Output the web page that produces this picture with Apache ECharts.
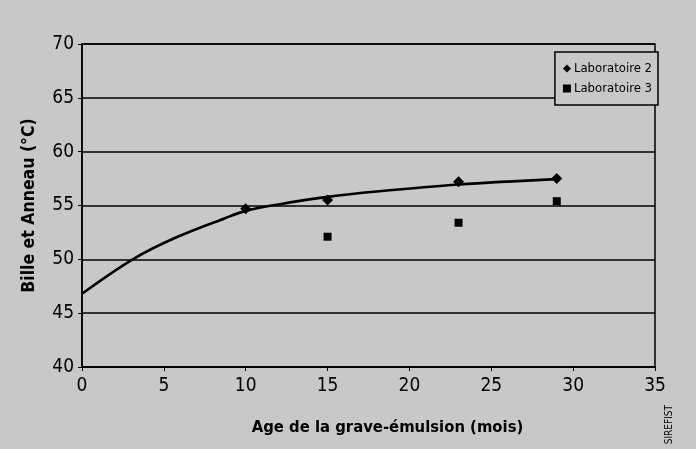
<!DOCTYPE html>
<html>
<head>
<meta charset="utf-8">
<script src="https://cdn.jsdelivr.net/npm/echarts@6/dist/echarts.min.js"></script>
<style>html,body{margin:0;padding:0;background:#c8c8c8;}#c{width:696px;height:449px;}</style>
</head>
<body>
<div id="c"></div>
<script>
// Data
var lab2X = [10, 15, 23, 29];
var lab2Y = [54.7, 55.5, 57.2, 57.5];
var lab3X = [15, 23, 29];
var lab3Y = [52.1, 53.4, 55.4];
var trendX = [0, 3.1, 5.7, 8.7, 10, 12, 15, 18, 23, 29];
var trendY = [46.8, 50.0, 52.0, 53.8, 54.5, 55.1, 55.8, 56.3, 56.95, 57.45];
var xTicks = [0, 5, 10, 15, 20, 25, 30, 35];
var yTicks = [40, 45, 50, 55, 60, 65, 70];

function pairs(xs, ys) { return xs.map(function (x, i) { return [x, ys[i]]; }); }

var FONT = "'Liberation Sans Narrow', 'DejaVu Sans Condensed', 'Roboto Condensed', 'Liberation Sans', sans-serif";
var chart = echarts.init(document.getElementById('c'));
chart.setOption({
  backgroundColor: '#c8c8c8',
  animation: false,
  textStyle: { fontFamily: FONT },
  grid: { left: 82, right: 41, top: 44, bottom: 82, show: true, borderColor: '#000', borderWidth: 1.5, backgroundColor: 'transparent' },
  legend: {
    right: 38, top: 52, orient: 'vertical', itemGap: 7,
    backgroundColor: '#c8c8c8', borderColor: '#000', borderWidth: 1.5, borderRadius: 0,
    padding: [10, 6, 10, 8], itemWidth: 8, itemHeight: 8,
    textStyle: { fontFamily: FONT, fontSize: 13, color: '#000', padding: [0, 0, 0, -2] },
    data: [{ name: 'Laboratoire 2', icon: 'diamond' }, { name: 'Laboratoire 3', icon: 'rect' }]
  },
  xAxis: {
    type: 'value', min: xTicks[0], max: xTicks[xTicks.length - 1], interval: 5,
    name: 'Age de la grave-émulsion (mois)', nameLocation: 'middle', nameGap: 52,
    nameTextStyle: { fontFamily: FONT, fontSize: 16.5, fontWeight: 'bold', color: '#000', padding: [0, 0, 0, 38] },
    axisLine: { lineStyle: { color: '#000', width: 1.5 } },
    axisTick: { show: true, length: 4, lineStyle: { color: '#000' } },
    axisLabel: { fontFamily: FONT, fontSize: 19, color: '#000', margin: 10 },
    splitLine: { show: false }
  },
  yAxis: {
    type: 'value', min: yTicks[0], max: yTicks[yTicks.length - 1], interval: 5,
    name: 'Bille et Anneau (°C)', nameLocation: 'middle', nameGap: 44,
    nameTextStyle: { fontFamily: FONT, fontSize: 17.5, fontWeight: 'bold', color: '#000' },
    axisLine: { show: true, lineStyle: { color: '#000', width: 1.5 } },
    axisTick: { show: true, length: 4, lineStyle: { color: '#000' } },
    axisLabel: { fontFamily: FONT, fontSize: 19, color: '#000', margin: 8 },
    splitLine: { show: true, lineStyle: { color: '#000', width: 1.5 } }
  },
  series: [
    {
      name: 'Tendance', type: 'line', smooth: 0.35, showSymbol: false, silent: true,
      data: pairs(trendX, trendY), lineStyle: { color: '#000', width: 2.6 }, z: 3
    },
    {
      name: 'Laboratoire 2', type: 'scatter', symbol: 'diamond', symbolSize: 11,
      data: pairs(lab2X, lab2Y), itemStyle: { color: '#000', opacity: 1 }, z: 4
    },
    {
      name: 'Laboratoire 3', type: 'scatter', symbol: 'rect', symbolSize: 8,
      data: pairs(lab3X, lab3Y), itemStyle: { color: '#000', opacity: 1 }, z: 4
    }
  ],
  graphic: [{
    type: 'text', left: 664, top: 405, rotation: Math.PI / 2,
    style: { text: 'SIREFIST', fontFamily: FONT, fontSize: 10, fill: '#000' }
  }]
});
</script>
</body>
</html>
